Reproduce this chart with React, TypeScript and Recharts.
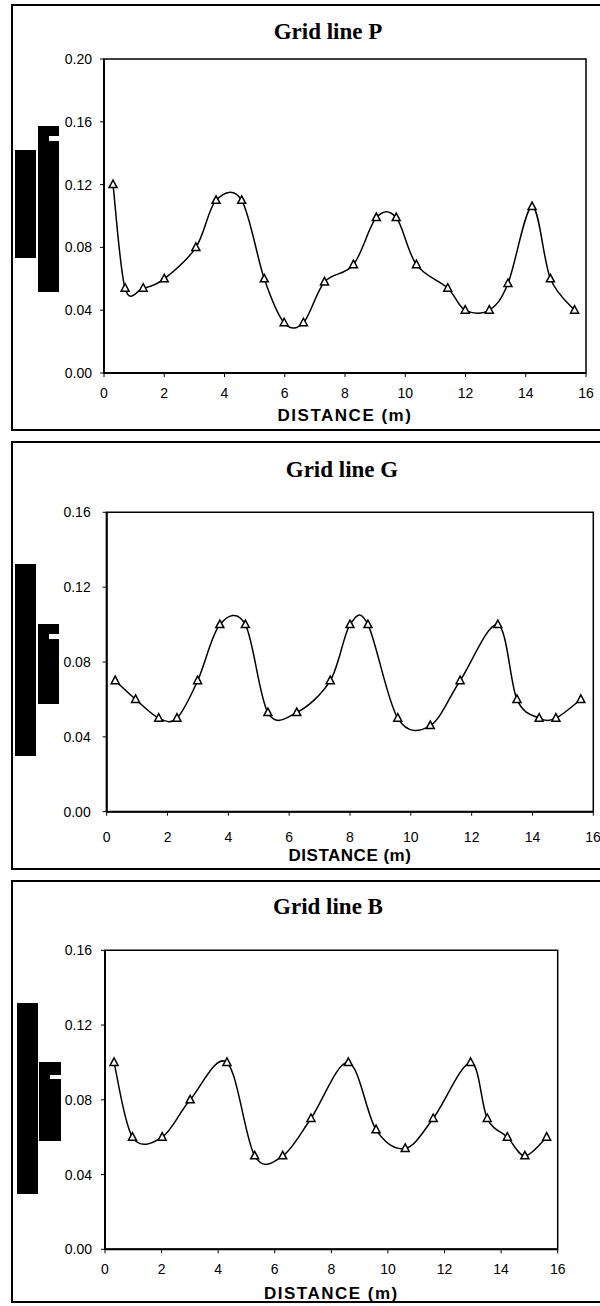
import { Label, Line, LineChart, ReferenceArea, XAxis, YAxis } from 'recharts';

const xTicks = [0, 2, 4, 6, 8, 10, 12, 14, 16];
const yTicksP = [0, 0.04, 0.08, 0.12, 0.16, 0.2];
const yTicksGB = [0, 0.04, 0.08, 0.12, 0.16];

// grid line P
const pDistance = [0.3, 0.7, 1.3, 2.0, 3.05, 3.72, 4.57, 5.32, 5.98, 6.62, 7.32, 8.28, 9.04, 9.7, 10.37, 11.41, 11.99, 12.79, 13.41, 14.21, 14.82, 15.62];
const pValue = [0.12, 0.054, 0.054, 0.06, 0.08, 0.11, 0.11, 0.06, 0.032, 0.032, 0.058, 0.069, 0.099, 0.099, 0.069, 0.054, 0.04, 0.04, 0.057, 0.106, 0.06, 0.04];

// grid line G
const gDistance = [0.28, 0.95, 1.71, 2.31, 2.99, 3.72, 4.56, 5.3, 6.25, 7.35, 8.0, 8.59, 9.57, 10.64, 11.62, 12.86, 13.49, 14.22, 14.77, 15.59];
const gValue = [0.07, 0.06, 0.05, 0.05, 0.07, 0.1, 0.1, 0.053, 0.053, 0.07, 0.1, 0.1, 0.05, 0.046, 0.07, 0.1, 0.06, 0.05, 0.05, 0.06];

// grid line B
const bDistance = [0.32, 0.97, 2.02, 3.01, 4.31, 5.29, 6.28, 7.28, 8.6, 9.58, 10.61, 11.6, 12.92, 13.51, 14.22, 14.84, 15.61];
const bValue = [0.1, 0.06, 0.06, 0.08, 0.1, 0.05, 0.05, 0.07, 0.1, 0.064, 0.054, 0.07, 0.1, 0.07, 0.06, 0.05, 0.06];

const toRows = (xs: number[], ys: number[]) => xs.map((d, i) => ({ distance: d, value: ys[i] }));

// excel-like smoothed line (catmull-rom through the points)
function smoothCurve(context: any) {
  let pts: number[][] = [];
  return {
    areaStart() {},
    areaEnd() {},
    lineStart() {
      pts = [];
    },
    point(x: number, y: number) {
      pts.push([+x, +y]);
    },
    lineEnd() {
      if (!pts.length) return;
      context.moveTo(pts[0][0], pts[0][1]);
      for (let i = 0; i < pts.length - 1; i++) {
        const p0 = pts[i - 1] || pts[i];
        const p1 = pts[i];
        const p2 = pts[i + 1];
        const p3 = pts[i + 2] || p2;
        context.bezierCurveTo(
          p1[0] + (p2[0] - p0[0]) / 6,
          p1[1] + (p2[1] - p0[1]) / 6,
          p2[0] - (p3[0] - p1[0]) / 6,
          p2[1] - (p3[1] - p1[1]) / 6,
          p2[0],
          p2[1]
        );
      }
    },
  };
}

function TriangleDot(props: any) {
  const { cx, cy, index } = props;
  if (cx == null || cy == null) return null;
  return (
    <path
      key={index}
      d={`M${cx},${cy - 4.5}L${cx + 4},${cy + 3}L${cx - 4},${cy + 3}Z`}
      fill='#fff'
      stroke='#000'
      strokeWidth={1.5}
    />
  );
}

const sans = '"Liberation Sans", Arial, sans-serif';
const serif = '"Liberation Serif", "Times New Roman", serif';

interface PanelProps {
  title: string;
  rows: { distance: number; value: number }[];
  yTicks: number[];
  top: number;
  height: number;
  margin: { top: number; right: number; bottom: number; left: number };
  xTickMargin: number;
  yTickMargin: number;
  labelOffset: number;
  labelSpacing: number;
  titleX: number;
  titleY: number;
}

function Panel(p: PanelProps) {
  const yMax = p.yTicks[p.yTicks.length - 1];
  return (
    <>
      <div
        style={{
          position: 'absolute',
          left: p.titleX - 150,
          top: p.titleY - 12,
          width: 300,
          textAlign: 'center',
          fontFamily: serif,
          fontWeight: 'bold',
          fontSize: 23,
          lineHeight: '23px',
        }}
      >
        {p.title}
      </div>
      <div style={{ position: 'absolute', left: 0, top: p.top }}>
        <LineChart width={600} height={p.height} data={p.rows} margin={p.margin}>
          <ReferenceArea x1={0} x2={16} y1={0} y2={yMax} fill='none' stroke='#000' strokeWidth={1.5} />
          <XAxis
            dataKey='distance'
            type='number'
            domain={[0, 16]}
            ticks={xTicks}
            height={50}
            tickSize={4}
            tickMargin={p.xTickMargin}
            axisLine={{ stroke: '#000', strokeWidth: 2 }}
            tickLine={{ stroke: '#000' }}
            tick={{ fill: '#000', fontFamily: sans, fontSize: 14 }}
          >
            <Label
              content={(lp: any) => {
                const vb = lp.viewBox;
                return (
                  <text
                    x={vb.x + vb.width / 2}
                    y={vb.y + vb.height - p.labelOffset}
                    textAnchor='middle'
                    fontFamily={sans}
                    fontWeight='bold'
                    fontSize={17}
                    letterSpacing={p.labelSpacing}
                    fill='#000'
                  >
                    DISTANCE (m)
                  </text>
                );
              }}
            />
          </XAxis>
          <YAxis
            type='number'
            domain={[0, yMax]}
            ticks={p.yTicks}
            width={60}
            tickSize={4}
            tickMargin={p.yTickMargin}
            tickFormatter={(v: number) => v.toFixed(2)}
            axisLine={{ stroke: '#000', strokeWidth: 2 }}
            tickLine={{ stroke: '#000' }}
            tick={{ fill: '#000', fontFamily: sans, fontSize: 14 }}
          />
          <Line
            dataKey='value'
            type={smoothCurve as any}
            stroke='#000'
            strokeWidth={1.5}
            dot={TriangleDot}
            activeDot={false}
            isAnimationActive={false}
          />
        </LineChart>
      </div>
    </>
  );
}

function Block({ x, y, w, h, white }: { x: number; y: number; w: number; h: number; white?: boolean }) {
  return <div style={{ position: 'absolute', left: x, top: y, width: w, height: h, background: white ? '#fff' : '#000' }} />;
}

function Frame({ top, bottom }: { top: number; bottom: number }) {
  return (
    <div
      style={{
        position: 'absolute',
        left: 11,
        top,
        width: 620,
        height: bottom - top - 4,
        border: '2px solid #000',
      }}
    />
  );
}

export default function App() {
  return (
    <div
      style={{
        position: 'absolute',
        left: 0,
        top: 0,
        width: 600,
        height: 1306,
        overflow: 'hidden',
        background: '#fff',
      }}
    >
      <Frame top={4} bottom={431} />
      <Frame top={441} bottom={870} />
      <Frame top={880} bottom={1303} />

      {/* masked axis titles */}
      <Block x={15} y={150} w={21} h={108} />
      <Block x={38} y={126} w={21} h={166} />
      <Block x={49} y={136} w={10} h={5} white />

      <Block x={15} y={564} w={21} h={192} />
      <Block x={38} y={624} w={21} h={80} />
      <Block x={49} y={634} w={10} h={5} white />

      <Block x={17} y={1003} w={21} h={191} />
      <Block x={39} y={1062} w={22} h={79} />
      <Block x={50} y={1075} w={11} h={4} white />

      <Panel
        title='Grid line P'
        rows={toRows(pDistance, pValue)}
        yTicks={yTicksP}
        top={0}
        height={430}
        margin={{ top: 59, right: 14, bottom: 7, left: 44 }}
        xTickMargin={11}
        yTickMargin={8}
        labelOffset={2}
        labelSpacing={1.5}
        titleX={328}
        titleY={32}
      />
      <Panel
        title='Grid line G'
        rows={toRows(gDistance, gValue)}
        yTicks={yTicksGB}
        top={436}
        height={434}
        margin={{ top: 76.3, right: 6.7, bottom: 8.3, left: 46.7 }}
        xTickMargin={16}
        yTickMargin={12}
        labelOffset={0.3}
        labelSpacing={0.5}
        titleX={342}
        titleY={470}
      />
      <Panel
        title='Grid line B'
        rows={toRows(bDistance, bValue)}
        yTicks={yTicksGB}
        top={875}
        height={431}
        margin={{ top: 75.3, right: 42.3, bottom: 6.7, left: 45 }}
        xTickMargin={11}
        yTickMargin={9}
        labelOffset={0.3}
        labelSpacing={1.5}
        titleX={328}
        titleY={907}
      />
    </div>
  );
}
